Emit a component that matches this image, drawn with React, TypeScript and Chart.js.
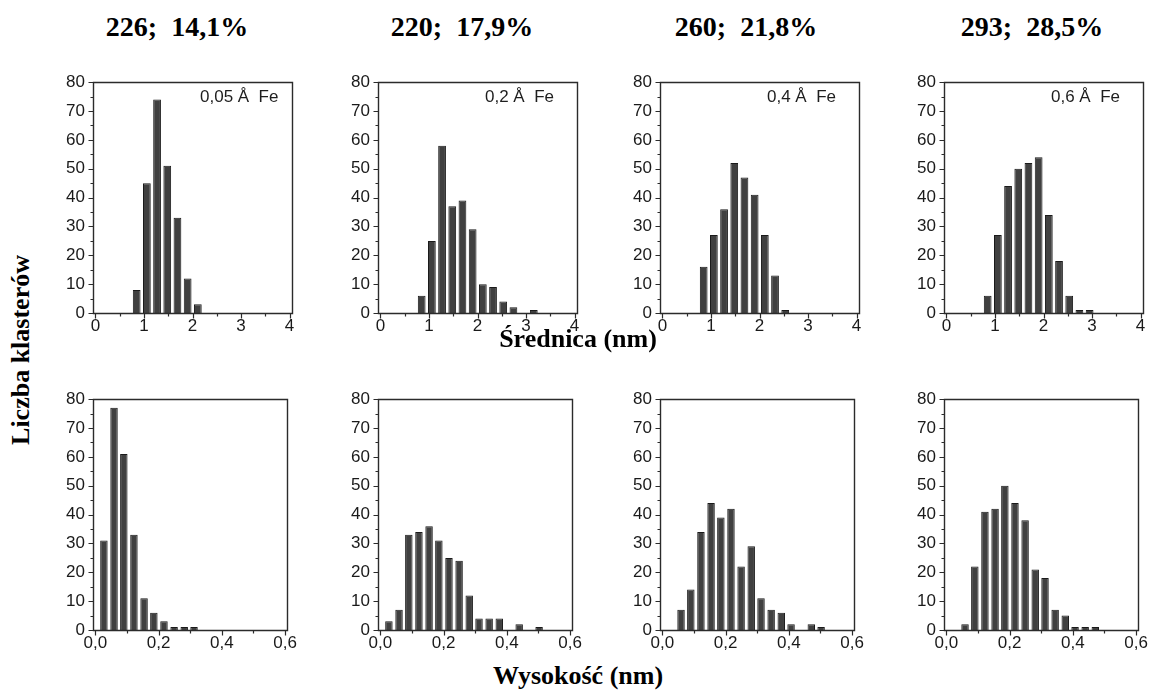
import React, { useEffect, useRef } from 'react';
import { Chart, registerables } from 'chart.js';

Chart.register(...registerables);

// Bin centres
const diameterBins = [0.85, 1.06, 1.27, 1.48, 1.69, 1.9, 2.11, 2.32, 2.53, 2.74, 2.95, 3.16];
const heightBins = [0.027, 0.059, 0.09, 0.122, 0.154, 0.185, 0.217, 0.249, 0.281, 0.312, 0.344, 0.376, 0.407, 0.439, 0.471, 0.502];

// Diameter (Średnica) histograms
const diameter005 = [8, 45, 74, 51, 33, 12, 3];
const diameter02 = [6, 25, 58, 37, 39, 29, 10, 9, 4, 2, 0, 1];
const diameter04 = [16, 27, 36, 52, 47, 41, 27, 13, 1];
const diameter06 = [6, 27, 44, 50, 52, 54, 34, 18, 6, 1, 1];

// Height (Wysokość) histograms
const height005 = [31, 77, 61, 33, 11, 6, 3, 1, 1, 1];
const height02 = [3, 7, 33, 34, 36, 31, 25, 24, 12, 4, 4, 4, 0, 2, 0, 1];
const height04 = [0, 7, 14, 34, 44, 39, 42, 22, 29, 11, 7, 6, 2, 0, 2, 1];
const height06 = [0, 2, 22, 41, 42, 50, 44, 38, 21, 18, 7, 5, 1, 1, 1];

const titles = ['226;  14,1%', '220;  17,9%', '260;  21,8%', '293;  28,5%'];
const notes = ['0,05 Å  Fe', '0,2 Å  Fe', '0,4 Å  Fe', '0,6 Å  Fe'];

const diameterMajor = [0, 1, 2, 3, 4];
const diameterMinor = [0.5, 1.5, 2.5, 3.5];
const heightMajor = [0, 0.2, 0.4, 0.6];
const heightMinor = [0.1, 0.3, 0.5];
const yMajor = [0, 10, 20, 30, 40, 50, 60, 70, 80];
const yMinor = [5, 15, 25, 35, 45, 55, 65, 75];

const SANS = 'Arial, "Liberation Sans", sans-serif';
const SERIF = '"Times New Roman", "Liberation Serif", serif';

const PAD_L = 55;
const PAD_T = 9;
const PAD_R = 8;
const PAD_B = 30;
const PLOT_W = 199;
const PLOT_H = 240;

const framePlugin = {
  id: 'frame',
  afterDatasetsDraw(chart: any, _args: any, opts: any) {
    const { ctx, chartArea: a, scales } = chart;
    const xs = scales.x;
    const ys = scales.y;
    ctx.save();
    ctx.strokeStyle = '#2b2b2b';
    ctx.lineWidth = 1.4;
    const l = Math.round(a.left) + 0.5;
    const t = Math.round(a.top) + 0.5;
    const r = Math.round(a.right) + 0.5;
    const b = Math.round(a.bottom) + 0.5;
    ctx.beginPath();
    ctx.moveTo(l, t);
    ctx.lineTo(r, t);
    ctx.lineTo(r, b);
    ctx.lineTo(l, b);
    ctx.closePath();
    ctx.stroke();
    ctx.lineWidth = 1.2;
    ctx.beginPath();
    (opts.xMajor as number[]).forEach((v) => {
      const px = Math.round(xs.getPixelForValue(v)) + 0.5;
      ctx.moveTo(px, b);
      ctx.lineTo(px, b + 5);
    });
    (opts.xMinor as number[]).forEach((v) => {
      const px = Math.round(xs.getPixelForValue(v)) + 0.5;
      ctx.moveTo(px, b);
      ctx.lineTo(px, b + 3);
    });
    yMajor.forEach((v) => {
      const py = Math.round(ys.getPixelForValue(v)) + 0.5;
      ctx.moveTo(l, py);
      ctx.lineTo(l - 5, py);
    });
    yMinor.forEach((v) => {
      const py = Math.round(ys.getPixelForValue(v)) + 0.5;
      ctx.moveTo(l, py);
      ctx.lineTo(l - 3, py);
    });
    ctx.stroke();
    if (opts.note) {
      ctx.font = '17px ' + SANS;
      ctx.fillStyle = '#1e1e1e';
      ctx.textBaseline = 'alphabetic';
      ctx.textAlign = 'left';
      ctx.fillText(opts.note, a.left + 107, a.top + 20);
    }
    ctx.restore();
  },
};

type PanelProps = {
  left: number;
  top: number;
  bins: number[];
  counts: number[];
  xMin: number;
  xMax: number;
  major: number[];
  minor: number[];
  decimals: number;
  note?: string;
};

function Panel(p: PanelProps) {
  const ref = useRef<HTMLCanvasElement | null>(null);
  useEffect(() => {
    if (!ref.current) return;
    const pts = p.counts
      .map((c, i) => ({ x: p.bins[i], y: c }))
      .filter((d) => d.y > 0);
    const fmt = (v: number) =>
      p.decimals > 0 ? Number(v).toFixed(p.decimals).replace('.', ',') : String(Math.round(Number(v)));
    const chart = new Chart(ref.current, {
      type: 'bar',
      data: {
        datasets: [
          {
            data: pts as any,
            backgroundColor: '#404040',
            borderColor: '#1a1a1a',
            borderWidth: 1,
            barPercentage: 0.76,
            categoryPercentage: 1,
          },
        ],
      },
      options: {
        animation: false,
        responsive: false,
        devicePixelRatio: 1,
        layout: { padding: { left: 0, top: PAD_T, right: PAD_R, bottom: 0 } },
        plugins: {
          legend: { display: false },
          tooltip: { enabled: false },
          frame: { xMajor: p.major, xMinor: p.minor, note: p.note },
        } as any,
        scales: {
          x: {
            type: 'linear',
            offset: false,
            min: p.xMin,
            max: p.xMax,
            grid: { display: false, drawTicks: false },
            border: { display: false },
            ticks: {
              padding: 3,
              color: '#1a1a1a',
              font: { family: SANS, size: 17 },
              maxRotation: 0,
              autoSkip: false,
              callback: (v: any) => fmt(v),
            },
            afterBuildTicks: (ax: any) => {
              ax.ticks = p.major.map((v) => ({ value: v }));
            },
            afterFit: (ax: any) => {
              ax.height = PAD_B;
            },
          },
          y: {
            min: 0,
            max: 80,
            grid: { display: false, drawTicks: false },
            border: { display: false },
            ticks: {
              stepSize: 10,
              padding: 8,
              color: '#1a1a1a',
              font: { family: SANS, size: 17 },
            },
            afterBuildTicks: (ax: any) => {
              ax.ticks = yMajor.map((v) => ({ value: v }));
            },
            afterFit: (ax: any) => {
              ax.width = PAD_L;
            },
          },
        },
      } as any,
      plugins: [framePlugin as any],
    });
    return () => chart.destroy();
  }, []);
  const w = PAD_L + PLOT_W + PAD_R;
  const h = PAD_T + PLOT_H + PAD_B;
  return (
    <canvas
      ref={ref}
      width={w}
      height={h}
      style={{ position: 'absolute', left: p.left - PAD_L, top: p.top - PAD_T, width: w, height: h }}
    />
  );
}

const colLeft = [93, 378, 660, 944];
const titleCenters = [177, 462, 746, 1032];
const topRow = 73;
const bottomRow = 390;

const diameterSets = [diameter005, diameter02, diameter04, diameter06];
const heightSets = [height005, height02, height04, height06];

const textStyle = (x: number, y: number, size: number, rotate = false): React.CSSProperties => ({
  position: 'absolute',
  left: x,
  top: y,
  transform: rotate ? 'translate(-50%, -50%) rotate(-90deg)' : 'translate(-50%, -50%)',
  whiteSpace: 'pre',
  fontFamily: SERIF,
  fontWeight: 'bold',
  fontSize: size,
  color: '#000',
  lineHeight: 1,
});

export default function App() {
  return (
    <div
      style={{
        position: 'absolute',
        left: 0,
        top: 0,
        width: 1155,
        height: 691,
        background: '#fff',
        overflow: 'hidden',
      }}
    >
      {titles.map((t, i) => (
        <div key={'t' + i} style={textStyle(titleCenters[i], 27, 28)}>
          {t}
        </div>
      ))}
      {diameterSets.map((c, i) => (
        <Panel
          key={'d' + i}
          left={colLeft[i]}
          top={topRow}
          bins={diameterBins}
          counts={c}
          xMin={-0.05}
          xMax={4.05}
          major={diameterMajor}
          minor={diameterMinor}
          decimals={0}
          note={notes[i]}
        />
      ))}
      {heightSets.map((c, i) => (
        <Panel
          key={'h' + i}
          left={colLeft[i]}
          top={bottomRow}
          bins={heightBins}
          counts={c}
          xMin={-0.0075}
          xMax={0.6075}
          major={heightMajor}
          minor={heightMinor}
          decimals={1}
        />
      ))}
      <div style={textStyle(578, 339, 26)}>Średnica (nm)</div>
      <div style={textStyle(578, 676, 26)}>Wysokość (nm)</div>
      <div style={textStyle(21, 350, 26, true)}>Liczba klasterów</div>
    </div>
  );
}
